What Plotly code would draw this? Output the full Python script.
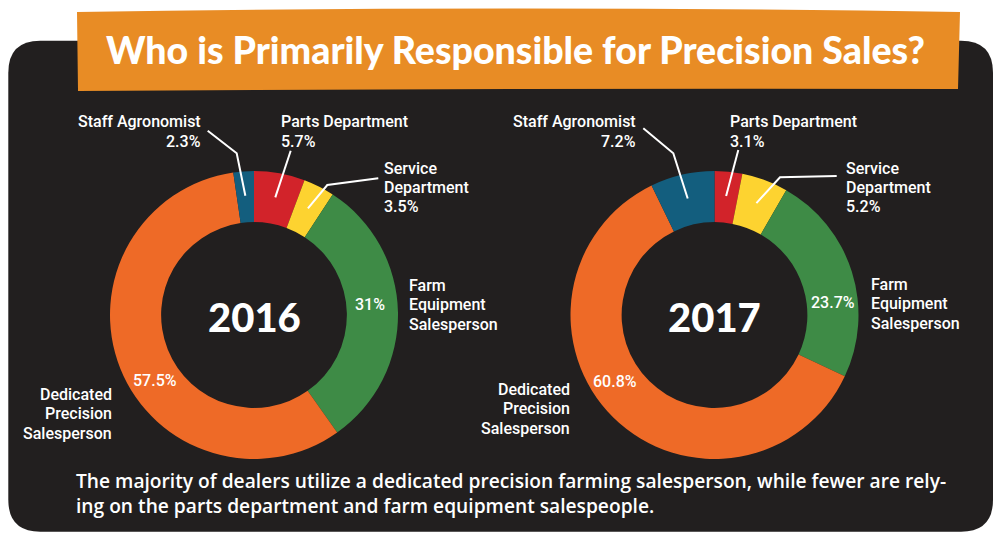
import math
import plotly.graph_objects as go

W, H = 1000, 540

# ---------------- data ----------------
categories = ["Parts Department", "Service Department", "Farm Equipment Salesperson",
              "Dedicated Precision Salesperson", "Staff Agronomist"]
years = ["2016", "2017"]
values_2016 = [5.7, 3.5, 31, 57.5, 2.3]
values_2017 = [3.1, 5.2, 23.7, 60.8, 7.2]
slice_colors = ["#D2232A", "#FDD330", "#3E8B46", "#EE6A27", "#135E7E"]
label_lines = {
    "Parts Department": ["Parts Department"],
    "Service Department": ["Service", "Department"],
    "Farm Equipment Salesperson": ["Farm", "Equipment", "Salesperson"],
    "Dedicated Precision Salesperson": ["Dedicated", "Precision", "Salesperson"],
    "Staff Agronomist": ["Staff Agronomist"],
}
title_text = "Who is Primarily Responsible for Precision Sales?"
caption_lines = [
    "The majority of dealers utilize a dedicated precision farming salesperson, while fewer are rely-",
    "ing on the parts department and farm equipment salespeople.",
]

# ---------------- style / layout config ----------------
BG = "#221F1F"
BANNER = "#E88C25"
LABEL_FONT = "Roboto, Lato, sans-serif"
TITLE_FONT = "Lato, Roboto, sans-serif"
CAPTION_FONT = "Open Sans, Noto Sans, sans-serif"
R = 144
HOLE = 0.645
centers = {"2016": (254, 315), "2017": (714.5, 315)}
LBL = 16
LINE_H = 19.5

placement = {
    "2016": {
        "Staff Agronomist": dict(x=203, y=122, anchor="right", pct="below",
                                 leader=[(207.7, 130.7), (236.7, 153.3)]),
        "Parts Department": dict(x=279, y=122, anchor="left", pct="below",
                                 leader=[(290.7, 150.7)]),
        "Service Department": dict(x=381.5, y=168, anchor="left", pct="below",
                                   leader=[(378.3, 178.3), (327.3, 185)]),
        "Farm Equipment Salesperson": dict(x=407, y=285, anchor="left", pct=(370, 304)),
        "Dedicated Precision Salesperson": dict(x=114, y=394, anchor="right", pct=(155, 380)),
    },
    "2017": {
        "Staff Agronomist": dict(x=638, y=122, anchor="right", pct="below",
                                 leader=[(643.3, 128.3), (673.3, 153.3)]),
        "Parts Department": dict(x=728, y=122, anchor="left", pct="below",
                                 leader=[(738.3, 150)]),
        "Service Department": dict(x=843.5, y=168, anchor="left", pct="below",
                                   leader=[(836.7, 176), (780, 177.3)]),
        "Farm Equipment Salesperson": dict(x=869, y=284, anchor="left", pct=(833, 302)),
        "Dedicated Precision Salesperson": dict(x=572, y=389, anchor="right", pct=(615, 381)),
    },
}


def px(x, y):
    return x / W, 1 - y / H


def fmt(v):
    return f"{v:g}%"


def path_from(seq):
    s = ""
    for item in seq:
        cmd = item[0]
        coords = " ".join("%.5f,%.5f" % px(*p) for p in item[1:])
        s += f"{cmd} {coords} "
    return s + "Z"


fig = go.Figure()
shapes = []
annotations = []

# dark rounded panel
x0, y0, x1, y1, rr = 8.3, 40.7, 993, 531.7, 32
pts = [
    ("M", (x0 + rr, y0)), ("L", (x1 - rr, y0)), ("Q", (x1, y0), (x1, y0 + rr)),
    ("L", (x1, y1 - rr)), ("Q", (x1, y1), (x1 - rr, y1)), ("L", (x0 + rr, y1)),
    ("Q", (x0, y1), (x0, y1 - rr)), ("L", (x0, y0 + rr)), ("Q", (x0, y0), (x0 + rr, y0)),
]
shapes.append(dict(type="path", xref="paper", yref="paper", path=path_from(pts),
                   fillcolor=BG, line=dict(width=0), layer="below"))

# banner
banner = [("M", (77, 12)), ("Q", (518, 5), (960, 12)), ("L", (958, 89)),
          ("Q", (518, 88), (78, 91))]
shapes.append(dict(type="path", xref="paper", yref="paper", path=path_from(banner),
                   fillcolor=BANNER, line=dict(width=0), layer="below"))

tx, ty = px(515, 49)
annotations.append(dict(text=title_text, x=tx, y=ty, xref="paper", yref="paper",
                        showarrow=False, xanchor="center", yanchor="middle",
                        font=dict(family=TITLE_FONT, size=37.5, color="white", weight=900)))

values_by_year = {"2016": values_2016, "2017": values_2017}

for yr in years:
    vals = values_by_year[yr]
    cx, cy = centers[yr]
    dx0, dy0 = px(cx - R, cy + R)
    dx1, dy1 = px(cx + R, cy - R)
    fig.add_trace(go.Pie(
        labels=categories, values=vals, sort=False, direction="clockwise", rotation=0,
        hole=HOLE, marker=dict(colors=slice_colors, line=dict(width=0)),
        textinfo="none", hoverinfo="label+percent", showlegend=False,
        domain=dict(x=[dx0, dx1], y=[dy0, dy1]),
    ))
    ax, ay = px(cx, cy + 2)
    annotations.append(dict(text=yr, x=ax, y=ay, xref="paper", yref="paper",
                            showarrow=False, xanchor="center", yanchor="middle",
                            font=dict(family=TITLE_FONT, size=40, color="white", weight=900)))
    total = sum(vals)
    cum = 0
    for cat, v in zip(categories, vals):
        mid = (cum + v / 2) / total * 2 * math.pi
        cum += v
        p = placement[yr][cat]
        lines = list(label_lines[cat])
        pct_inside = isinstance(p["pct"], tuple)
        if not pct_inside:
            lines.append(fmt(v))
        for i, ln in enumerate(lines):
            lx, ly = px(p["x"], p["y"] + i * LINE_H)
            annotations.append(dict(text=ln, x=lx, y=ly, xref="paper", yref="paper",
                                    showarrow=False, xanchor=p["anchor"], yanchor="middle",
                                    font=dict(family=LABEL_FONT, size=LBL, color="white",
                                              weight=500)))
        if pct_inside:
            lx, ly = px(*p["pct"])
            annotations.append(dict(text=fmt(v), x=lx, y=ly, xref="paper", yref="paper",
                                    showarrow=False, xanchor="center", yanchor="middle",
                                    font=dict(family=LABEL_FONT, size=LBL, color="white",
                                              weight=500)))
        if "leader" in p:
            rr_in = 0.83 * R
            end = (cx + rr_in * math.sin(mid), cy - rr_in * math.cos(mid))
            seq = p["leader"] + [end]
            d = "M " + " L ".join("%.5f,%.5f" % px(*q) for q in seq)
            shapes.append(dict(type="path", xref="paper", yref="paper", path=d,
                               line=dict(color="white", width=2), layer="above"))

for i, ln in enumerate(caption_lines):
    lx, ly = px(74, 480 + i * 25)
    annotations.append(dict(text=ln, x=lx, y=ly, xref="paper", yref="paper", showarrow=False,
                            xanchor="left", yanchor="middle",
                            font=dict(family=CAPTION_FONT, size=19.2, color="white", weight=600)))

fig.update_layout(
    width=W, height=H, margin=dict(l=0, r=0, t=0, b=0),
    paper_bgcolor="white", plot_bgcolor="white",
    shapes=shapes, annotations=annotations, showlegend=False,
)

fig.write_html("out.html", config={"displayModeBar": False},
               post_script="document.body.style.margin='0';")
